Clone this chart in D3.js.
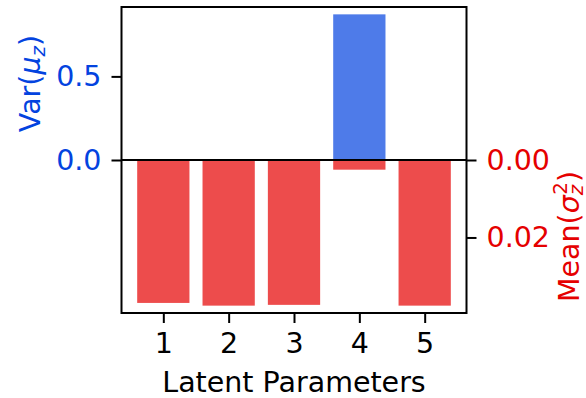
<!DOCTYPE html>
<html>
<head>
<meta charset="utf-8">
<script src="https://cdn.jsdelivr.net/npm/d3@7"></script>
<style>
  html, body { margin: 0; padding: 0; background: #fff; }
  svg { display: block; font-family: "DejaVu Sans", sans-serif; }
</style>
</head>
<body>
<svg id="chart" width="586" height="398"></svg>
<script>
// ---- data ----
const categories = [1, 2, 3, 4, 5];
const varMu = [0, 0, 0, 0.871, 0];                         // Var(mu_z), left axis (up)
const meanSigma = [0.0369, 0.0376, 0.0374, 0.0025, 0.0376]; // Mean(sigma_z^2), right axis (down)
const leftTicks = [0.0, 0.5];
const rightTicks = [0.00, 0.02];
const xLabel = "Latent Parameters";

// ---- layout ----
const svg = d3.select("#chart");
const L = 121.5, R = 466.5, T = 7, B = 313;
const fontSize = 28.5;
const blue = "#0343df", red = "#e50000";
const tickLen = 10, pad = 10;

const x = d3.scaleLinear().domain([0.36, 5.64]).range([L, R]);
const yL = d3.scaleLinear().domain([-0.915, 0.915]).range([B, T]);
const yR = d3.scaleLinear().domain([-0.0395, 0.0395]).range([T, B]);
const barW = x(1.4) - x(0.6);

// blue bars (up)
svg.append("g").selectAll("rect").data(categories).join("rect")
  .attr("x", (d) => x(d) - barW / 2)
  .attr("width", barW)
  .attr("y", (d, i) => yL(Math.max(0, varMu[i])))
  .attr("height", (d, i) => Math.abs(yL(varMu[i]) - yL(0)))
  .attr("fill", blue).attr("fill-opacity", 0.7);

// red bars (down, right axis inverted)
svg.append("g").selectAll("rect").data(categories).join("rect")
  .attr("x", (d) => x(d) - barW / 2)
  .attr("width", barW)
  .attr("y", yR(0))
  .attr("height", (d, i) => yR(meanSigma[i]) - yR(0))
  .attr("fill", red).attr("fill-opacity", 0.7);

// zero line
svg.append("line")
  .attr("x1", L).attr("x2", R)
  .attr("y1", yL(0)).attr("y2", yL(0))
  .attr("stroke", "#000").attr("stroke-width", 2);

// axes
const axisStyle = (g, color) => {
  g.select(".domain").remove();
  g.selectAll(".tick line").attr("stroke", "#000").attr("stroke-width", 2);
  g.selectAll(".tick text").attr("fill", color)
    .style("font-size", fontSize + "px")
    .style("font-family", "DejaVu Sans");
};

svg.append("g").attr("transform", `translate(${L},0)`)
  .call(d3.axisLeft(yL).tickValues(leftTicks).tickFormat(d3.format(".1f"))
    .tickSize(tickLen).tickPadding(pad))
  .call((g) => axisStyle(g, blue));

svg.append("g").attr("transform", `translate(${R},0)`)
  .call(d3.axisRight(yR).tickValues(rightTicks).tickFormat(d3.format(".2f"))
    .tickSize(tickLen).tickPadding(pad))
  .call((g) => axisStyle(g, red));

svg.append("g").attr("transform", `translate(0,${B})`)
  .call(d3.axisBottom(x).tickValues(categories).tickFormat(d3.format("d"))
    .tickSize(tickLen).tickPadding(pad))
  .call((g) => axisStyle(g, "#000"));

// frame
svg.append("rect")
  .attr("x", L).attr("y", T).attr("width", R - L).attr("height", B - T)
  .attr("fill", "none").attr("stroke", "#000").attr("stroke-width", 2);

// x label
svg.append("text")
  .attr("x", (L + R) / 2).attr("y", 392)
  .attr("text-anchor", "middle")
  .style("font-size", fontSize + "px")
  .attr("fill", "#000")
  .text(xLabel);

// left y label: Var(mu_z)
const tl = svg.append("text")
  .attr("transform", `translate(39.5,${(T + yL(0)) / 2}) rotate(-90)`)
  .attr("text-anchor", "middle")
  .style("font-size", fontSize + "px")
  .attr("fill", blue);
tl.append("tspan").text("Var(");
tl.append("tspan").style("font-style", "italic").text("μ");
tl.append("tspan").style("font-style", "italic").style("font-size", (fontSize * 0.7) + "px").attr("dy", 5).text("z");
tl.append("tspan").attr("dy", -5).text(")");

// right y label: Mean(sigma_z^2)
const tr = svg.append("text")
  .attr("transform", `translate(578.5,${(yL(0) + B) / 2}) rotate(-90)`)
  .attr("text-anchor", "middle")
  .style("font-size", fontSize + "px")
  .attr("fill", red);
tr.append("tspan").text("Mean(");
tr.append("tspan").style("font-style", "italic").text("σ");
tr.append("tspan").style("font-style", "italic").style("font-size", (fontSize * 0.7) + "px").attr("dy", 4).text("z");
tr.append("tspan").style("font-size", (fontSize * 0.7) + "px").attr("dx", -10).attr("dy", -16).text("2");
tr.append("tspan").attr("dy", 12).text(")");
</script>
</body>
</html>
